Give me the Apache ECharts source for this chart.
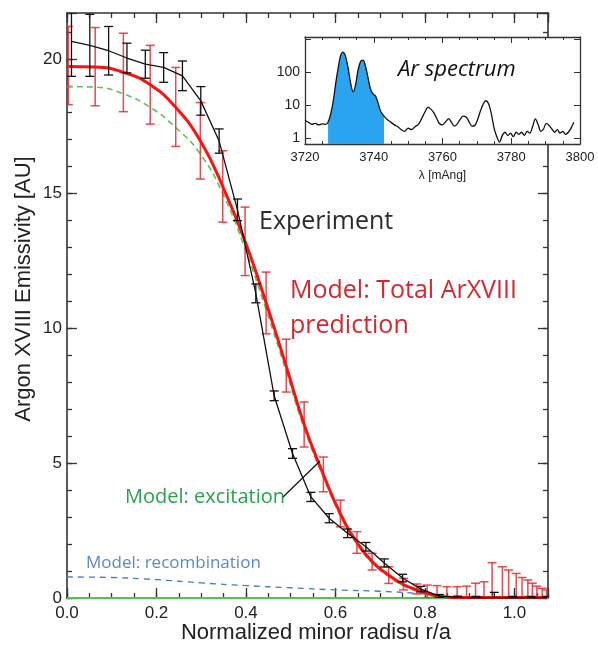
<!DOCTYPE html>
<html><head><meta charset="utf-8">
<script src="https://cdn.jsdelivr.net/npm/echarts@6/dist/echarts.min.js"></script>
<style>html,body{margin:0;padding:0;background:#fff}#c{width:598px;height:646px}</style>
</head><body><div id="c"></div>
<script>
// ---- Experiment (black) ----
const expR   = [0.010,0.051,0.093,0.134,0.175,0.216,0.258,0.299,0.340,0.381,0.422,0.463,0.504,0.545,0.586,0.627,0.668,0.709,0.750,0.791,0.832,0.873,0.914,0.955,0.996,1.037,1.072];
const expVal = [20.65,20.5,20.3,20.03,19.8,19.68,19.37,18.44,16.95,14.4,11.3,7.5,5.36,3.75,2.96,2.4,1.9,1.3,0.74,0.33,0.07,0.02,0.01,0.01,0.01,0.01,0.01];
const expErr = [1.3,1.15,0.9,0.55,0.52,0.55,0.55,0.53,0.45,0.4,0.35,0.18,0.18,0.17,0.17,0.16,0.16,0.15,0.14,0.1,0.06,0.05,0.05,0.2,0.05,0.05,0.05];
// ---- Model total (red) ----
const modR    = [0.003,0.063,0.126,0.186,0.243,0.298,0.348,0.398,0.445,0.49,0.53,0.573,0.611,0.648,0.682,0.719,0.752,0.782,0.805,0.827,0.849,0.872,0.893,0.913,0.932,0.95,0.973,0.987,1.004,1.017,1.03,1.04,1.05,1.062,1.072];
const modVal  = [19.72,19.7,19.5,19.04,18.2,16.96,15.27,13.23,10.95,8.6,6.44,4.58,3.13,2.06,1.35,0.85,0.5,0.3,0.17,0.08,0.04,0.02,0.02,0.02,0.02,0.02,0.02,0.02,0.02,0.02,0.02,0.02,0.02,0.02,0.02];
const modHigh = [21.2,21.16,20.95,20.5,19.68,18.38,16.59,14.5,12.09,9.6,7.27,5.23,3.63,2.46,1.66,1.16,0.73,0.52,0.48,0.46,0.42,0.42,0.44,0.55,0.6,1.31,1.16,1.04,0.91,0.76,0.67,0.55,0.44,0.36,0.3];
const modLow  = [18.3,18.26,18.04,17.58,16.75,15.54,13.94,11.96,9.8,7.64,5.6,3.94,2.64,1.66,1.04,0.54,0.3,0.15,0,0,0,0,0,0,0,0,0,0,0,0,0,0,0,0,0];
// ---- Model excitation (green dashed) ----
const excR   = [0.0,0.063,0.126,0.186,0.243,0.298,0.348,0.398,0.445,0.49,0.53,0.573,0.611,0.648,0.682,0.719,0.752,0.782,0.805,0.827,0.85];
const excVal = [18.97,18.95,18.7,18.2,17.45,16.47,15.0,12.95,10.7,8.4,6.3,4.48,3.05,2.0,1.3,0.8,0.45,0.25,0.12,0.05,0.0];
// ---- Model recombination (blue dashed) ----
const recR   = [0.0,0.1,0.2,0.3,0.4,0.5,0.6,0.7,0.8,0.85,0.9];
const recVal = [0.78,0.76,0.68,0.56,0.46,0.38,0.3,0.25,0.15,0.05,0.0];
// ---- zero line (green solid) ----
const zeroR   = [0.0,1.075];
const zeroVal = [0,0];
// ---- inset spectrum ----
const specL = [3720.0,3721.0,3722.0,3723.0,3724.0,3725.0,3726.0,3726.7,3727.5,3728.2,3729.0,3729.7,3730.3,3731.0,3731.7,3732.5,3733.3,3734.0,3734.7,3735.4,3736.2,3736.9,3737.6,3738.3,3739.0,3739.7,3740.5,3741.2,3742.0,3743.0,3744.0,3745.0,3746.0,3747.0,3748.0,3749.0,3750.0,3751.0,3752.0,3753.0,3754.0,3755.0,3755.8,3756.6,3757.4,3758.2,3759.0,3760.0,3761.0,3761.8,3762.6,3763.4,3764.2,3765.0,3766.0,3767.0,3767.8,3768.6,3769.4,3770.2,3771.0,3771.8,3772.6,3773.4,3774.2,3775.0,3775.8,3776.6,3777.4,3778.2,3779.0,3779.8,3780.6,3781.4,3782.2,3783.0,3783.8,3784.6,3785.4,3786.2,3787.0,3787.8,3788.6,3789.4,3790.2,3791.0,3791.8,3792.6,3793.4,3794.2,3795.0,3795.8,3796.6,3797.4,3798.2];
const specV = [3.4,3.0,2.6,2.8,2.5,2.7,2.6,3.0,5.5,13,50,140,300,400,320,140,45,25,40,110,210,230,150,70,32,22,19,12,6.5,4.6,3.6,3.0,2.5,2.2,1.8,1.6,2.0,1.8,2.2,2.6,4.0,6.5,8.7,7.5,6.0,4.2,2.8,2.5,3.2,3.9,3.0,2.3,2.6,3.5,4.6,4.2,3.0,2.3,2.4,3.6,6.5,10.5,13.5,11,5.5,2.0,1.1,0.75,1.2,1.5,1.2,1.4,1.1,1.5,1.3,1.5,1.2,1.6,1.4,2.2,3.8,2.6,1.6,1.9,2.8,2.4,1.9,1.5,1.8,1.4,1.6,1.3,1.5,2.0,3.0];
const fillFrom = 3726.7, fillTo = 3743.0;
const xTickLabels = ['0.0','0.2','0.4','0.6','0.8','1.0'];
const yTickLabels = ['0','5','10','15','20'];

const AX = '#333';
const FONT = 'Liberation Sans, Arial, sans-serif';
const ANN = 'Open Sans, sans-serif';
const main = {left:67, top:13, width:481, height:585, outerBoundsMode:'none', containLabel:false};
const ins = {left:305, top:37, width:275, height:107, outerBoundsMode:'none', containLabel:false};

function zip(a,b){return a.map((v,i)=>[v,b[i]]);}
function errRender(color, capW, lw){
  return function(params, api){
    const x = api.value(0), lo = api.value(1), hi = api.value(2);
    const pLo = api.coord([x, lo]), pHi = api.coord([x, hi]);
    const hw = capW/2;
    const style = {stroke: color, lineWidth: lw, fill: null};
    return {type:'group', children:[
      {type:'line', shape:{x1:pLo[0], y1:pLo[1], x2:pHi[0], y2:pHi[1]}, style},
      {type:'line', shape:{x1:pLo[0]-hw, y1:pLo[1], x2:pLo[0]+hw, y2:pLo[1]}, style},
      {type:'line', shape:{x1:pHi[0]-hw, y1:pHi[1], x2:pHi[0]+hw, y2:pHi[1]}, style}
    ]};
  };
}
function isMult(v, m){ return Math.abs(v/m - Math.round(v/m)) < 1e-6; }

function xAx(grid, pos, interval, len, showLine, showLabel){
  return {gridIndex:grid, type:'value', min:0, max:1.075, interval:interval, position:pos,
    axisLine:{show:showLine, onZero:false, lineStyle:{color:AX, width:1.6}},
    axisTick:{show:true, inside:true, length:len, lineStyle:{color:AX, width:1.3}},
    axisLabel:{show:showLabel, margin:7, fontSize:17, color:'#222', fontFamily:FONT,
      formatter:function(v){ if(!isMult(v,0.2)) return ''; const i=Math.round(v/0.2); return xTickLabels[i]||''; }},
    splitLine:{show:false}};
}
function yAx(grid, pos, interval, len, showLine, showLabel){
  return {gridIndex:grid, type:'value', min:0, max:21.7, interval:interval, position:pos,
    axisLine:{show:showLine, onZero:false, lineStyle:{color:AX, width:1.6}},
    axisTick:{show:true, inside:true, length:len, lineStyle:{color:AX, width:1.3}},
    axisLabel:{show:showLabel, margin:5, fontSize:17, color:'#222', fontFamily:FONT,
      formatter:function(v){ if(!isMult(v,5)) return ''; const i=Math.round(v/5); return yTickLabels[i]||''; }},
    splitLine:{show:false}};
}

const xAxes = [xAx(0,'bottom',0.2,10,true,true), xAx(1,'bottom',0.05,5,false,false), xAx(2,'top',0.2,10,true,false), xAx(3,'top',0.05,5,false,false)];
const yAxes = [yAx(0,'left',5,10,true,true), yAx(1,'left',1,5,false,false), yAx(2,'right',5,10,true,false), yAx(3,'right',1,5,false,false)];

// inset axes
xAxes.push({gridIndex:4, type:'value', min:3720, max:3800, interval:20, position:'bottom', z:10,
  axisLine:{show:true, onZero:false, lineStyle:{color:AX, width:1.3}},
  axisTick:{show:true, inside:true, length:6, lineStyle:{color:AX}},
  minorTick:{show:true, splitNumber:4, length:3, lineStyle:{color:AX}},
  axisLabel:{margin:7, fontSize:13, color:'#222', fontFamily:FONT, formatter:function(v){return String(v);}},
  splitLine:{show:false},
  name:'λ [mAng]', nameLocation:'middle', nameGap:26, nameTextStyle:{fontSize:12, color:'#222', fontFamily:FONT}});
xAxes.push({gridIndex:5, type:'value', min:3720, max:3800, interval:20, position:'top', z:10,
  axisLine:{show:true, onZero:false, lineStyle:{color:AX, width:1.3}},
  axisTick:{show:true, inside:true, length:6, lineStyle:{color:AX}},
  minorTick:{show:true, splitNumber:4, length:3, lineStyle:{color:AX}},
  axisLabel:{show:false}, splitLine:{show:false}});
function logLab(v){ const l=Math.log10(v); if(Math.abs(l-Math.round(l))<1e-6 && v<500) return String(Math.round(v)); return ''; }
yAxes.push({gridIndex:4, type:'log', logBase:10, min:0.66, max:1150, position:'left', z:10,
  axisLine:{show:true, onZero:false, lineStyle:{color:AX, width:1.3}},
  axisTick:{show:true, inside:true, length:6, lineStyle:{color:AX}},
  axisLabel:{margin:5, fontSize:14, color:'#222', fontFamily:FONT, formatter:logLab},
  splitLine:{show:false}});
yAxes.push({gridIndex:5, type:'log', logBase:10, min:0.66, max:1150, position:'right', z:10,
  axisLine:{show:true, onZero:false, lineStyle:{color:AX, width:1.3}},
  axisTick:{show:true, inside:true, length:6, lineStyle:{color:AX}},
  axisLabel:{show:false}, splitLine:{show:false}});

const specData = zip(specL, specV);
const fillData = specData.filter(d => d[0] >= fillFrom && d[0] <= fillTo);

function txt(x, y, s, size, color, extra){
  return {type:'text', x:x, y:y, z:20, style:Object.assign({text:s, fontSize:size, fontFamily:ANN, fill:color, verticalAlign:'middle', align:'left'}, extra||{})};
}

const option = {
  animation:false,
  backgroundColor:'#fff',
  grid:[
    Object.assign({}, main), Object.assign({}, main), Object.assign({}, main), Object.assign({}, main),
    Object.assign({show:true, backgroundColor:'#fff', borderWidth:0, z:8}, ins),
    Object.assign({}, ins)
  ],
  xAxis:xAxes,
  yAxis:yAxes,
  series:[
    {type:'line', name:'zero', xAxisIndex:0, yAxisIndex:0, data:zip(zeroR,zeroVal), symbol:'none',
      lineStyle:{color:'#44cc44', width:2}, z:2},
    {type:'line', name:'recombination', xAxisIndex:0, yAxisIndex:0, data:zip(recR,recVal), symbol:'none', smooth:true,
      lineStyle:{color:'#4a78c4', width:1.3, type:[6,5]}, z:3},
    {type:'line', name:'excitation', xAxisIndex:0, yAxisIndex:0, data:zip(excR,excVal), symbol:'none', smooth:true,
      lineStyle:{color:'#5cc25c', width:1.6, type:[6,4]}, z:3},
    {type:'custom', name:'modErr', xAxisIndex:0, yAxisIndex:0, clip:true,
      data:modR.map((r,i)=>[r, modLow[i], modHigh[i]]), encode:{x:0, y:[1,2]},
      renderItem:errRender('rgba(232,40,48,0.85)', 9, 1.5), z:4},
    {type:'line', name:'model', xAxisIndex:0, yAxisIndex:0, data:zip(modR,modVal), symbol:'none', smooth:true,
      lineStyle:{color:'#ff1010', width:3}, z:5},
    {type:'custom', name:'expErr', xAxisIndex:0, yAxisIndex:0, clip:true,
      data:expR.map((r,i)=>[r, expVal[i]-expErr[i], expVal[i]+expErr[i]]), encode:{x:0, y:[1,2]},
      renderItem:errRender('#111', 9, 1.3), z:6},
    {type:'line', name:'experiment', xAxisIndex:0, yAxisIndex:0, data:zip(expR,expVal), symbol:'none',
      lineStyle:{color:'#111', width:1.3}, z:6},
    {type:'line', name:'fill', xAxisIndex:4, yAxisIndex:4, data:fillData, symbol:'none', smooth:0.3,
      lineStyle:{width:0}, areaStyle:{color:'#2aa4ee', opacity:1, origin:'start'}, z:11},
    {type:'line', name:'spectrum', xAxisIndex:4, yAxisIndex:4, data:specData, symbol:'none', smooth:0.3,
      lineStyle:{color:'#111', width:1.3}, z:12}
  ],
  graphic:[
    txt(259, 222, 'Experiment', 25, '#2b2b2b'),
    txt(290, 291, 'Model: Total ArXVIII', 25, '#d7262e'),
    txt(290, 326, 'prediction', 25, '#d7262e'),
    txt(125, 497, 'Model: excitation', 20, '#2aa24a'),
    txt(86, 563, 'Model: recombination', 17, '#5a88cc'),
    txt(398, 70, 'Ar spectrum', 22, '#111', {fontStyle:'italic'}),
    {type:'text', x:316, y:633, z:20, style:{text:'Normalized minor radisu r/a', fontSize:22, fontFamily:FONT, fill:'#222', align:'center', verticalAlign:'middle'}},
    {type:'text', x:24, y:289, rotation:Math.PI/2, z:20, style:{text:'Argon XVIII Emissivity [AU]', fontSize:22, fontFamily:FONT, fill:'#222', align:'center', verticalAlign:'middle'}},
    {type:'line', z:20, shape:{x1:283, y1:497, x2:320, y2:461}, style:{stroke:'#111', lineWidth:1.2}}
  ]
};
const chart = echarts.init(document.getElementById('c'));
chart.setOption(option);
</script></body></html>
